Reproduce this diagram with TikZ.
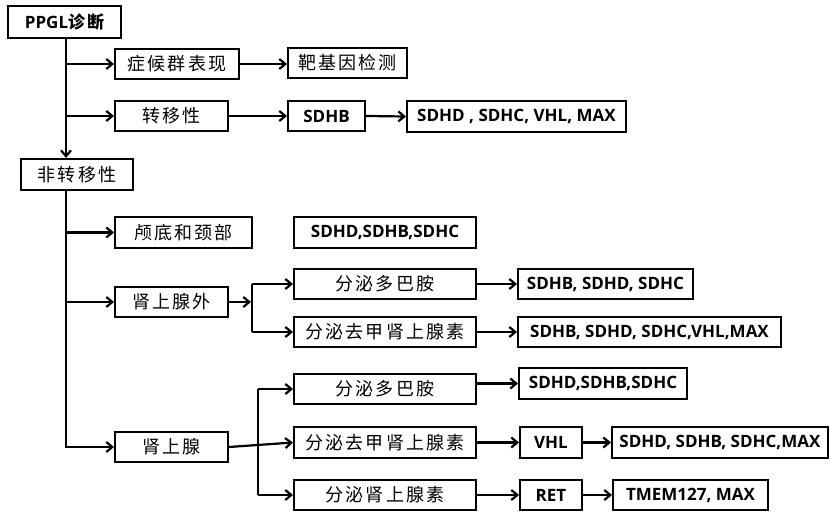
\documentclass[tikz,border=0pt]{standalone}
\usepackage{fontspec}
\setmainfont{Open Sans}
\newfontfamily\cjk[LetterSpace=12]{Noto Sans CJK SC}
\usetikzlibrary{arrows.meta}
\newcommand{\zh}[1]{{\cjk\mdseries\fontsize{18}{18}\selectfont #1}}
\newcommand{\zhb}[1]{{\cjk\bfseries\fontsize{17}{17}\selectfont #1}}
\begin{document}
\begin{tikzpicture}[x=1pt,y=-1pt,
  box/.style={draw, line width=2pt, minimum height=30pt, inner sep=0pt,
    font=\fontsize{17}{17}\selectfont\bfseries},
  conn/.style={line width=2.2pt},
  arr/.style={line width=2.2pt, -{Straight Barb[length=6pt,width=10pt]}}]
\useasboundingbox (0,0) rectangle (830,513);
% top section
\node[box, minimum width=113pt, minimum height=32pt] (ppgl) at (64.5,22) {PPGL\zhb{诊断}};
\node[box, minimum width=124pt] (sym) at (177,64) {\zh{症候群表现}};
\node[box, minimum width=119pt] (target) at (347.5,63) {\zh{靶基因检测}};
\node[box, minimum width=113pt] (meta) at (171.5,116) {\zh{转移性}};
\node[box, minimum width=77pt] (sdhb) at (326.5,116) {SDHB};
\node[box, minimum width=219pt, minimum height=31pt] (metag) at (516.5,116.5) {SDHD , SDHC, VHL, MAX};
\node[box, minimum width=112pt, minimum height=31pt] (nonmeta) at (77,174.5) {\zh{非转移性}};
% non-metastatic
\node[box, minimum width=137pt, minimum height=31pt] (skull) at (183.5,232.5) {\zh{颅底和颈部}};
\node[box, minimum width=182pt, minimum height=31pt] (skullg) at (385,232.5) {SDHD,SDHB,SDHC};
\node[box, minimum width=113pt] (extra) at (171.5,302) {\zh{肾上腺外}};
\node[box, minimum width=182pt] (eda) at (385,284) {\zh{分泌多巴胺}};
\node[box, minimum width=175pt] (edag) at (605.5,284) {SDHB, SDHD, SDHC};
\node[box, minimum width=182pt] (ena) at (385,332) {\zh{分泌去甲肾上腺素}};
\node[box, minimum width=263pt] (enag) at (649.5,332) {SDHB, SDHD, SDHC,VHL,MAX};
\node[box, minimum width=113pt] (adr) at (171.5,447) {\zh{肾上腺}};
\node[box, minimum width=182pt] (ada) at (385,389) {\zh{分泌多巴胺}};
\node[box, minimum width=168pt, minimum height=31pt] (adag) at (603,383.5) {SDHD,SDHB,SDHC};
\node[box, minimum width=182pt, minimum height=31pt] (ana) at (385,442.5) {\zh{分泌去甲肾上腺素}};
\node[box, minimum width=62pt, minimum height=31pt] (vhl) at (551,442.5) {VHL};
\node[box, minimum width=216pt, minimum height=31pt] (anag) at (720,442.5) {SDHD, SDHB, SDHC,MAX};
\node[box, minimum width=182pt] (aa) at (385,495) {\zh{分泌肾上腺素}};
\node[box, minimum width=62pt] (ret) at (551,495) {RET};
\node[box, minimum width=155pt] (aag) at (690.5,495) {TMEM127, MAX};
% trunk coordinates
\coordinate (t) at (66,0);
\coordinate (v1) at (252,0);
\coordinate (v2) at (258,0);
% top connectors
\draw[arr] (ppgl.south -| t) -- (nonmeta.north -| t);
\draw[arr] (sym.west -| t) -- (sym.west);
\draw[arr] (meta.west -| t) -- (meta.west);
\draw[arr] (sym.east) -- (sym.east -| target.west);
\draw[arr] (meta.east) -- (sdhb.west);
\draw[arr] (sdhb.east) -- (metag.west);
% non-metastatic trunk
\draw[arr] (nonmeta.south -| t) |- (adr.west);
\draw[arr] (skull.west -| t) -- (skull.west);
\draw[arr] (extra.west -| t) -- (extra.west);
% extra-adrenal
\draw[arr] (extra.east) -- ([xshift=-1pt]extra.east -| v1);
\draw[conn] (eda.west -| v1) -- (ena.west -| v1);
\draw[arr] (eda.west -| v1) -- (eda.west);
\draw[arr] (ena.west -| v1) -- (ena.west);
\draw[arr] (eda.east) -- (edag.west);
\draw[arr] (ena.east) -- (enag.west);
% adrenal
\draw[arr] (adr.east) -- (ana.west);
\draw[conn] (ada.west -| v2) -- (aa.west -| v2);
\draw[arr] (ada.west -| v2) -- (ada.west);
\draw[arr] (aa.west -| v2) -- (aa.west);
\draw[arr] (ada.east |- adag.west) -- (adag.west);
\draw[arr] (ana.east) -- (vhl.west);
\draw[arr] (vhl.east) -- (anag.west);
\draw[arr] (aa.east) -- (ret.west);
\draw[arr] (ret.east) -- (aag.west);
\end{tikzpicture}
\end{document}
